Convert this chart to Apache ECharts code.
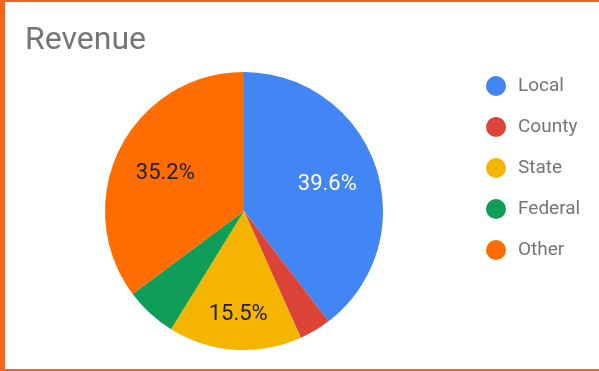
<!DOCTYPE html>
<html>
<head>
<meta charset="utf-8">
<script src="https://cdn.jsdelivr.net/npm/echarts@6/dist/echarts.min.js"></script>
<style>
  html, body { margin: 0; padding: 0; background: #fff; }
  #wrap { position: relative; width: 599px; height: 371px; overflow: hidden; }
  #chart { position: absolute; left: 0; top: 0; width: 599px; height: 371px; }
  .b { position: absolute; background: #f4661f; }
</style>
</head>
<body>
<div id="wrap">
  <div id="chart"></div>
  <div class="b" style="left:0;top:0;width:599px;height:2px;"></div>
  <div class="b" style="left:0;top:0;width:5px;height:371px;"></div>
  <div class="b" style="left:0;top:369px;width:599px;height:2px;"></div>
</div>
<script>
const titleText = 'Revenue';
const categories = ['Local', 'County', 'State', 'Federal', 'Other'];
const values = [39.6, 3.7, 15.5, 6.0, 35.2];
const colors = ['#4285f4', '#db4437', '#f4b400', '#0f9d58', '#ff6d01'];

const chart = echarts.init(document.getElementById('chart'), null, { renderer: 'canvas' });

const center = [244, 211];
const labelCenter = [244, 213];
const baseData = categories.map((c, i) => ({ name: c, value: values[i], itemStyle: { color: colors[i] } }));
const labelData = categories.map((c, i) => ({
  name: c,
  value: values[i],
  itemStyle: { color: 'rgba(0,0,0,0)' },
  label: {
    show: values[i] >= 10,
    color: i === 0 ? '#ffffff' : '#222222',
    formatter: c === 'State' ? '\n{d}%' : '{d}%'
  }
}));

chart.setOption({
  backgroundColor: '#ffffff',
  animation: false,
  title: {
    text: titleText,
    left: 20,
    top: 20,
    textStyle: { fontFamily: 'Roboto', fontSize: 32, fontWeight: 'normal', color: '#757575' }
  },
  legend: {
    orient: 'vertical',
    left: 481,
    top: 71,
    icon: 'circle',
    itemWidth: 20,
    itemHeight: 20,
    itemGap: 21,
    data: categories,
    textStyle: { fontFamily: 'Roboto', fontSize: 19, color: '#757575', padding: [0, 0, 0, 7], lineHeight: 20 }
  },
  series: [
    {
      type: 'pie',
      center: center,
      radius: [0, 139],
      startAngle: 90,
      clockwise: true,
      avoidLabelOverlap: false,
      label: { show: false },
      labelLine: { show: false },
      itemStyle: { borderWidth: 0 },
      emphasis: { disabled: true },
      data: baseData
    },
    {
      type: 'pie',
      center: labelCenter,
      radius: [0, 170],
      startAngle: 90,
      clockwise: true,
      silent: true,
      avoidLabelOverlap: false,
      percentPrecision: 1,
      label: {
        position: 'inside',
        fontFamily: 'Roboto',
        fontSize: 22,
        lineHeight: 28
      },
      labelLine: { show: false },
      emphasis: { disabled: true },
      data: labelData
    }
  ]
});
</script>
</body>
</html>
